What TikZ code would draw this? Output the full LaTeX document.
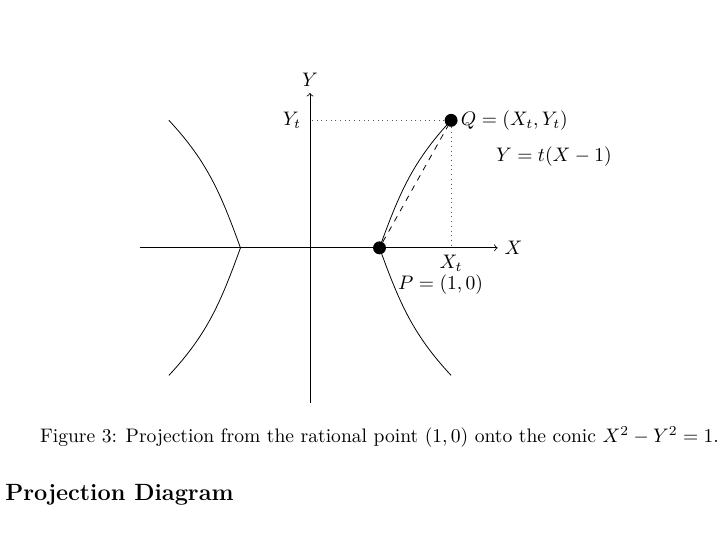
\documentclass[tikz,border=0pt]{standalone}
\usetikzlibrary{positioning}
\tikzset{
  dot/.style={circle,fill=black,inner sep=0pt,minimum size=6.6pt},
  guide/.style={dotted,gray!70!black}
}
\begin{document}
\begin{tikzpicture}[x=35.5pt,y=36.8pt]
      \useasboundingbox (-4.46,-4.13) rectangle (6.0,3.44);
      \coordinate (xa) at (-2.45,0);
      \coordinate (xb) at (2.70,0);
      \coordinate (ya) at (0,-2.15);
      \coordinate (yb) at (0,2.15);
      \coordinate (p0) at (1,0);
      \coordinate (q0) at (2.03,1.77);
      \coordinate (r0) at (2.03,-1.77);
      \coordinate (v0) at (-1,0);
      \coordinate (a0) at (-2.03,1.77);
      \coordinate (b0) at (-2.03,-1.77);
      \coordinate (Xt) at (2.03,0);
      \coordinate (Yt) at (0,1.77);
      \draw[->] (xa) -- (xb) node[right] (xl) {$X$};
      \draw[->] (ya) -- (yb) node[above] (yl) {$Y$};
      % the two branches
      \draw (a0) to[out=-47,in=110] (v0) to[out=-110,in=47] (b0);
      \draw (q0) to[out=-133,in=70] (p0) to[out=-70,in=133] (r0);
      \node[dot] (P) at (p0) {};
      \node[dot] (Q) at (q0) {};
      \begin{scope}[guide]
        \draw (Q) -- (Yt);
        \draw (Q) -- (Xt);
      \end{scope}
      \draw[dashed] (P) -- (Q);
      \node[left=1pt of Yt] (ytl) {$Y_t$};
      \node[below=0pt of Xt] (xtl) {$X_t$};
      \node[right=-2pt of Q] (ql) {$Q=(X_t,Y_t)$};
      \node (line) at (3.51,1.26) {$Y=t(X-1)$};
      \node (pl) at (1.88,-0.51) {$P=(1,0)$};
      \node (cap) at (1.0,-2.63) {Figure 3: Projection from the rational point $(1,0)$ onto the conic $X^2-Y^2=1$.};
      \node[anchor=west,inner sep=0pt,font=\large\bfseries] (head) at (-4.39,-3.43) {Projection Diagram};
    \end{tikzpicture}
\end{document}
